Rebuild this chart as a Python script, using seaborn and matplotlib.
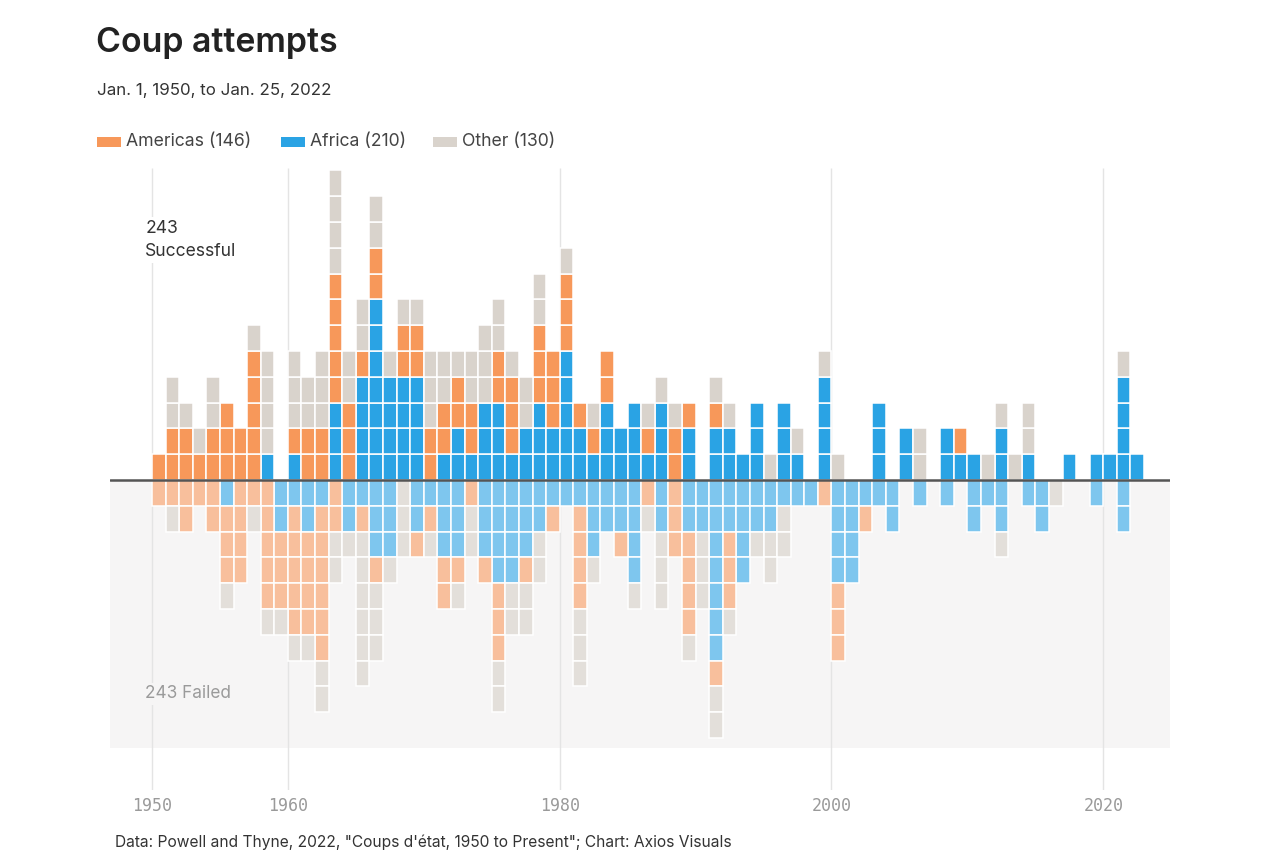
import numpy as np
import pandas as pd
import matplotlib
matplotlib.use("Agg")
import matplotlib.pyplot as plt
from matplotlib.patches import Rectangle
import seaborn as sns

# ─────────────────────────────────────────────────────────────────────────────
# Données : tentatives de coup d'État par année (1950 → 2022)
# ─────────────────────────────────────────────────────────────────────────────
years = list(range(1950, 2023))
regions = ["Africa", "Americas", "Other"]          # ordre d'empilement depuis la ligne 0

ok_africa = [0, 0, 0, 0, 0, 0, 0, 0, 1, 0,
             1, 0, 0, 3, 0, 4, 7, 4, 4, 4,
             0, 1, 2, 1, 3, 3, 1, 2, 3, 2,
             5, 2, 1, 3, 2, 3, 1, 3, 0, 2,
             0, 2, 2, 1, 3, 0, 3, 1, 0, 4,
             0, 0, 0, 3, 0, 2, 0, 0, 2, 1,
             1, 0, 2, 0, 1, 0, 0, 1, 0, 1,
             1, 4, 1]
ok_americas = [1, 2, 2, 1, 2, 3, 2, 5, 0, 0,
               1, 2, 2, 5, 3, 1, 2, 0, 2, 2,
               2, 2, 2, 2, 0, 2, 3, 0, 3, 3,
               3, 1, 1, 2, 0, 0, 1, 0, 2, 1,
               0, 1, 0, 0, 0, 0, 0, 0, 0, 0,
               0, 0, 0, 0, 0, 0, 0, 0, 0, 1,
               0, 0, 0, 0, 0, 0, 0, 0, 0, 0,
               0, 0, 0]
ok_other = [0, 2, 1, 1, 2, 0, 0, 1, 4, 0,
            3, 2, 3, 4, 2, 2, 2, 1, 1, 1,
            3, 2, 1, 2, 3, 2, 1, 2, 2, 0,
            1, 0, 1, 0, 0, 0, 1, 1, 1, 0,
            0, 1, 1, 0, 0, 1, 0, 1, 0, 1,
            1, 0, 0, 0, 0, 0, 2, 0, 0, 0,
            0, 1, 1, 1, 2, 0, 0, 0, 0, 0,
            0, 1, 0]

fail_africa = [0, 0, 0, 0, 0, 1, 0, 0, 0, 2,
               1, 2, 1, 0, 2, 1, 3, 3, 0, 2,
               1, 3, 3, 0, 3, 4, 4, 3, 2, 1,
               1, 1, 3, 2, 2, 4, 0, 2, 0, 2,
               2, 7, 2, 4, 2, 2, 1, 1, 1, 0,
               4, 4, 1, 1, 2, 0, 1, 0, 1, 0,
               2, 1, 2, 0, 1, 2, 0, 0, 0, 1,
               0, 2, 0]
fail_americas = [1, 1, 2, 1, 2, 3, 4, 1, 5, 3,
                 5, 4, 6, 2, 0, 1, 1, 0, 0, 1,
                 1, 2, 1, 1, 1, 3, 0, 1, 0, 1,
                 0, 4, 0, 0, 1, 0, 1, 0, 3, 4,
                 0, 1, 3, 0, 0, 0, 0, 0, 0, 1,
                 3, 0, 1, 0, 0, 0, 0, 0, 0, 0,
                 0, 0, 0, 0, 0, 0, 0, 0, 0, 0,
                 0, 0, 0]
fail_other = [0, 1, 0, 0, 0, 1, 0, 1, 1, 1,
              1, 1, 2, 2, 1, 6, 3, 1, 3, 0,
              1, 0, 1, 2, 0, 2, 2, 2, 2, 0,
              0, 3, 1, 0, 0, 1, 1, 3, 0, 1,
              3, 2, 1, 0, 1, 2, 2, 0, 0, 0,
              0, 0, 0, 0, 0, 0, 0, 0, 0, 0,
              0, 0, 1, 0, 0, 0, 1, 0, 0, 0,
              0, 0, 0]

tick_years = [1950, 1960, 1980, 2000, 2020]

# couleurs
pal_ok = {"Africa": "#2aa3e4", "Americas": "#f7985a", "Other": "#d9d3cc"}
pal_fail = {"Africa": "#7ec6ee", "Americas": "#f8bf9c", "Other": "#e3dfda"}
bg_fail = "#f6f5f5"

# ─────────────────────────────────────────────────────────────────────────────
# Une ligne par case (année, issue, région, niveau dans la pile)
# ─────────────────────────────────────────────────────────────────────────────
records = []
for outcome, sign, series in [("Successful", 1, (ok_africa, ok_americas, ok_other)),
                              ("Failed", -1, (fail_africa, fail_americas, fail_other))]:
    for i, yr in enumerate(years):
        level = 0
        for region, counts in zip(regions, series):
            for _ in range(counts[i]):
                records.append({"year": yr, "outcome": outcome, "region": region,
                                "level": level, "height": sign})
                level += 1
df = pd.DataFrame(records)

# ─────────────────────────────────────────────────────────────────────────────
# Figure
# ─────────────────────────────────────────────────────────────────────────────
sns.set_theme(style="white")
plt.rcParams["font.family"] = ["Inter", "DejaVu Sans"]

W, H = 1280, 859
fig = plt.figure(figsize=(W / 100, H / 100), dpi=100)
fig.patch.set_facecolor("white")


def fx(x):
    return x / W


def fy(y):
    return 1 - y / H


# axes : 110→1170 px en x, 160→790 px en y
ax = fig.add_axes([fx(110), fy(790), (1170 - 110) / W, (790 - 160) / H])

pitch = 13.59      # px par année
row_h = 25.8       # px par case
base_px = 480

for (outcome, lv), sub in df.groupby(["outcome", "level"]):
    sign = 1 if outcome == "Successful" else -1
    sns.barplot(data=sub, x="year", y="height", hue="region",
                hue_order=regions, order=years,
                palette=pal_ok if sign > 0 else pal_fail, saturation=1,
                dodge=False, width=1.0, errorbar=None, legend=False,
                bottom=sign * lv, edgecolor="white", linewidth=1.1,
                zorder=2, ax=ax)

x_left = (110 - 152) / pitch - 0.5
x_right = (1170 - 152) / pitch - 0.5
y_top = (base_px - 160) / row_h
y_bot = -(790 - base_px) / row_h
ax.set_xlim(x_left, x_right)
ax.set_ylim(y_bot, y_top)

# zone grisée des échecs + ligne de base
ax.axhspan(-(748 - base_px) / row_h, 0, color=bg_fail, zorder=0, lw=0)
ax.axhline(0, color="#555555", lw=1.8, zorder=3)

# lignes verticales des années repères
tick_pos = [years.index(t) - 0.5 for t in tick_years]
ax.vlines(tick_pos, y_bot, (base_px - 168) / row_h, color="#e4e4e4", lw=1, zorder=0.5)

ax.set_xticks(tick_pos)
ax.set_xticklabels([str(t) for t in tick_years], family="DejaVu Sans Mono",
                   fontsize=12, color="#9a9a9a")
ax.tick_params(axis="x", length=0, pad=5)
ax.set_yticks([])
ax.set_xlabel("")
ax.set_ylabel("")
for s in ax.spines.values():
    s.set_visible(False)
ax.set_facecolor("none")

# étiquettes internes
ax.text(tick_pos[0] - 0.5, (base_px - 220) / row_h, "243\nSuccessful", ha="left", va="top",
        fontsize=12.6, color="#333333", linespacing=1.45, zorder=4,
        bbox=dict(facecolor="white", edgecolor="none", pad=2))
ax.text(tick_pos[0] - 0.5, -(694 - base_px) / row_h, "243 Failed", ha="left", va="center",
        fontsize=12.4, color="#9a9a9a", zorder=4,
        bbox=dict(facecolor=bg_fail, edgecolor="none", pad=2))

# titre, sous-titre, légende, source
fig.text(fx(96), fy(43), "Coup attempts", fontsize=24.4, fontweight="semibold",
         color="#222222", va="center")
fig.text(fx(97), fy(91), "Jan. 1, 1950, to Jan. 25, 2022", fontsize=12.2,
         color="#333333", va="center")

legend_items = [("Americas (146)", pal_ok["Americas"], 97, 126),
                ("Africa (210)", pal_ok["Africa"], 281, 310),
                ("Other (130)", pal_ok["Other"], 433, 462)]
for label, col, px_patch, px_text in legend_items:
    fig.add_artist(Rectangle((fx(px_patch), fy(147)), 24 / W, 10 / H,
                             transform=fig.transFigure, color=col, lw=0))
    fig.text(fx(px_text), fy(142), label, fontsize=12.7, color="#444444", va="center")

fig.text(fx(115), fy(842), 'Data: Powell and Thyne, 2022, "Coups d\'état, 1950 to Present"; '
         'Chart: Axios Visuals', fontsize=11.2, color="#333333", va="center")

fig.savefig("out.png", dpi=100, facecolor="white")
